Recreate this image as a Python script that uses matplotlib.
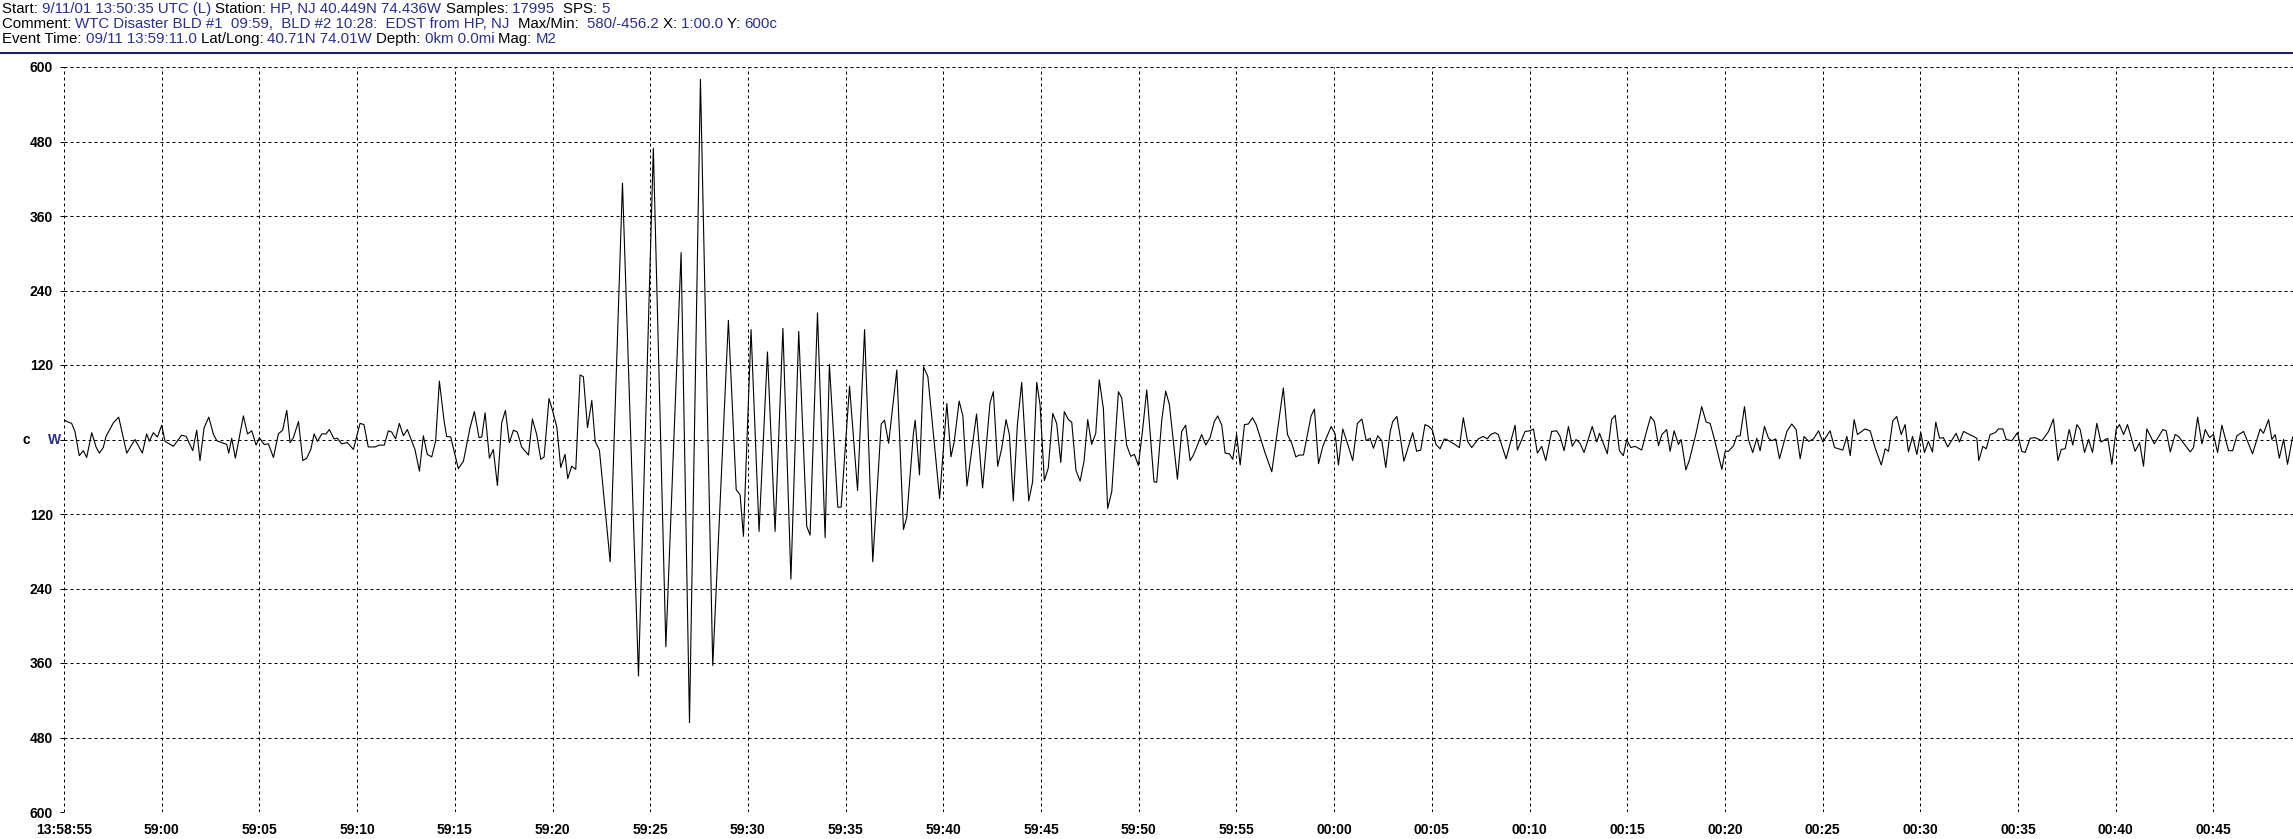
import numpy as np
import matplotlib.pyplot as plt
from matplotlib.lines import Line2D

# seismogram trace, (seconds after 13:58:55, counts) read at the turning points
quiet_before = [(0.0, 32), (0.14, 29), (0.39, 26), (0.56, 13), (0.78, -26), (0.99, -18), (1.16, -29),
                (1.42, 11), (1.64, -12), (1.81, -22), (2.01, -13), (2.15, 5), (2.53, 27), (2.80, 36),
                (3.21, -22), (3.63, 0), (4.01, -22), (4.23, 9), (4.37, -3), (4.57, 11), (4.78, 4),
                (5.00, 23), (5.17, -3), (5.60, -11), (6.02, 7), (6.25, 5), (6.59, -18), (6.79, 15),
                (6.96, -34), (7.17, 19), (7.41, 36), (7.65, 8), (7.82, -2), (8.33, -8), (8.43, -22),
                (8.58, 2), (8.77, -30), (9.18, 38), (9.39, 9), (9.61, 14), (9.83, -9), (10.00, 3),
                (10.24, -8), (10.46, -7), (10.72, -29), (10.97, 9), (11.19, 15), (11.40, 47),
                (11.57, -5), (11.74, 3), (12.00, 29), (12.22, -34), (12.42, -30), (12.63, -16),
                (12.80, 9), (12.97, -3), (13.19, 9), (13.41, 9), (13.58, 16), (13.82, 1), (13.99, 2),
                (14.21, -7), (14.50, -5), (14.81, -16), (15.15, 26), (15.35, 24), (15.57, -12),
                (15.92, -12), (16.14, -9), (16.39, -9), (16.60, 14), (16.77, 12), (16.97, 1),
                (17.16, 26), (17.37, 6), (17.57, 16), (17.96, -16), (18.19, -51), (18.39, 6),
                (18.59, -24), (18.82, -28), (19.02, -2), (19.21, 94), (19.45, 30), (19.58, 5),
                (19.79, 4), (20.18, -47), (20.44, -35), (20.78, 19), (21.00, 45), (21.24, 3),
                (21.38, 4), (21.55, 43), (21.77, -30), (21.97, -16), (22.18, -74), (22.40, 27),
                (22.59, 47), (22.79, -5), (23.00, 15), (23.20, 12), (23.42, -12), (23.77, -25),
                (23.97, 33), (24.19, 8), (24.40, -32), (24.57, -28), (24.82, 66), (24.99, 48),
                (25.22, 20), (25.42, -45), (25.64, -24), (25.78, -63), (25.98, -43), (26.19, -48)]

main_burst = [(26.41, 104), (26.58, 101), (26.79, 19), (27.01, 63), (27.18, -3), (27.40, -17),
              (27.95, -197), (28.58, 413), (29.40, -381), (30.16, 469), (30.80, -334), (31.58, 301),
              (32.01, -456), (32.57, 580), (33.20, -364), (34.00, 192), (34.40, -81), (34.60, -89),
              (34.77, -156), (35.16, 177), (35.57, -148), (36.00, 141), (36.39, -148), (36.79, 179),
              (37.20, -225), (37.60, 174), (38.01, -140), (38.18, -154), (38.56, 204), (38.95, -158),
              (39.17, 121), (39.60, -109), (39.77, -109), (40.20, 86), (40.61, -82), (40.97, 177),
              (41.39, -197), (41.82, 25), (41.99, 31), (42.20, -6), (42.62, 112), (42.96, -145),
              (43.13, -125), (43.47, 10), (43.56, 31), (43.78, -57), (43.99, 117), (44.21, 101),
              (44.81, -95), (45.18, 58), (45.39, -28), (45.56, -3), (45.81, 62), (46.00, 38),
              (46.21, -75), (46.70, 41)]

coda = [(47.01, -78), (47.39, 59), (47.56, 77), (47.78, -43), (47.99, -14), (48.21, 32), (48.38, 8),
        (48.58, -99), (48.79, 24), (49.01, 92), (49.37, -99), (49.57, -68), (49.78, 92), (49.95, 56),
        (50.17, -66), (50.37, -46), (50.60, 42), (50.80, 26), (51.01, -37), (51.19, 45), (51.40, 32),
        (51.57, 28), (51.79, -50), (52.00, -67), (52.20, -35), (52.39, 32), (52.59, -8), (52.80, 10),
        (52.98, 96), (53.19, 50), (53.41, -111), (53.62, -84), (53.96, 77), (54.13, 67), (54.38, -9),
        (54.59, -27), (54.78, -24), (54.98, -42), (55.19, 13), (55.41, 80), (55.78, -68),
        (55.92, -69), (56.18, 32), (56.38, 78), (56.57, 56), (56.98, -64), (57.20, 13), (57.40, 23),
        (57.63, -34), (57.80, -25), (58.22, 8), (58.43, -9), (58.65, 3), (58.87, 29), (59.04, 38),
        (59.25, 23), (59.42, -22), (59.64, -23), (59.81, -32), (60.01, 8), (60.19, -41), (60.41, 24),
        (60.61, 25), (60.82, 35), (61.01, 24), (61.47, -22), (61.81, -52), (62.40, 83), (62.61, 8),
        (62.83, -6), (63.04, -28), (63.22, -25), (63.43, -25), (63.82, 38), (63.99, 49),
        (64.20, -39), (64.42, -11), (64.85, 21), (65.05, 9), (65.22, -41), (65.44, 17), (65.68, -6),
        (65.95, -34), (66.19, 26), (66.42, 33), (66.64, -2), (66.84, 2), (67.01, -14), (67.23, 6),
        (67.44, -2), (67.64, -45), (67.87, 13), (68.00, 29), (68.21, 37), (68.38, 5)]

quiet_after = [(68.57, -35), (69.02, 11), (69.22, -19), (69.43, -17), (69.65, 24), (69.85, 21),
               (70.03, 15), (70.21, -8), (70.42, -15), (70.64, 1), (70.76, 0), (71.18, -8),
               (71.41, -13), (71.61, 35), (71.83, -3), (72.04, -13), (72.38, 1), (72.63, 5),
               (72.84, 1), (73.01, 8), (73.23, 11), (73.40, 8), (73.80, -31), (74.26, 23),
               (74.38, -17), (74.77, 13), (75.03, 14), (75.20, 17), (75.40, -22), (75.62, -11),
               (75.83, -34), (76.13, 13), (76.39, 14), (76.56, 5), (76.77, -18), (76.99, 21),
               (77.19, -11), (77.38, 0), (77.58, -6), (77.79, -21), (78.21, 21), (78.44, -4),
               (78.58, 10), (78.98, -23), (79.20, 32), (79.38, 39), (79.60, -18), (79.80, -26),
               (79.97, 0), (80.18, -13), (80.40, -11), (80.74, -17), (80.96, 10), (81.20, 37),
               (81.39, 29), (81.60, -10), (81.77, 8), (82.02, 16), (82.19, -19), (82.40, 14),
               (82.62, -8), (82.76, 0), (83.00, -49), (83.18, -33), (83.52, 10), (83.81, 53),
               (84.04, 28), (84.24, 26), (84.44, 3), (84.84, -48), (85.01, -19), (85.18, -19),
               (85.44, -10), (85.60, 5), (85.78, 6), (86.00, 53), (86.20, 0), (86.42, -21),
               (86.63, 2), (86.80, -18), (87.02, 21), (87.23, 2), (87.40, -2), (87.60, 1),
               (87.79, -31), (88.17, 13), (88.42, 25), (88.64, 16), (88.85, -31), (89.05, 5),
               (89.28, -3), (89.53, 1), (89.79, 14), (90.01, -4), (90.38, 14), (90.61, -13),
               (91.03, -17), (91.24, 5), (91.41, -26), (91.61, 32), (91.78, 8), (92.17, 17),
               (92.43, 14), (92.69, -14), (93.00, -41), (93.20, -15), (93.37, -19), (93.59, 30),
               (93.79, 37), (94.02, 8), (94.22, 24), (94.39, -20), (94.60, 5), (94.82, -24),
               (95.02, 12), (95.21, -21), (95.41, -3), (95.62, -20), (95.79, 28), (95.98, 2),
               (96.18, 3), (96.40, -12), (96.83, 10), (97.00, -4), (97.21, 13), (97.51, 8),
               (97.72, 5), (97.89, 2), (97.99, -34), (98.20, -11), (98.37, -15), (98.57, 8),
               (98.83, 11), (99.00, 17), (99.22, 17), (99.39, 0), (99.68, -2), (99.97, 11),
               (100.19, -19), (100.36, -21), (100.62, 2), (100.87, 3), (101.22, -2), (101.56, 13),
               (101.81, 33), (102.04, -34), (102.21, -16), (102.41, -15), (102.62, 16), (102.80, -9),
               (103.01, 24), (103.18, 16), (103.40, -21), (103.61, 0), (103.81, -21), (104.03, 26),
               (104.24, -4), (104.59, 2), (104.80, -40), (105.02, 16), (105.19, 24), (105.40, 8),
               (105.60, 24), (105.99, -19), (106.22, -5), (106.42, -43), (106.59, 17), (106.97, -7),
               (107.41, 16), (107.58, 14), (107.79, -20), (108.04, 8), (108.21, 5), (108.81, -20),
               (108.98, -13), (109.19, 36), (109.41, -7), (109.58, 16), (109.80, 3), (110.00, 8),
               (110.21, -21), (110.43, 23), (110.77, -18), (110.98, -18), (111.20, 6), (111.54, 13),
               (112.00, -23), (112.39, 17), (112.56, 10), (112.82, 32), (112.99, 0), (113.16, 8),
               (113.37, -30), (113.59, 0), (113.79, -40), (114.05, 4)]

x_ticks = list(range(0, 111, 5))
x_labels = ["13:58:55", "59:00", "59:05", "59:10", "59:15", "59:20", "59:25", "59:30", "59:35",
            "59:40", "59:45", "59:50", "59:55", "00:00", "00:05", "00:10", "00:15", "00:20",
            "00:25", "00:30", "00:35", "00:40", "00:45"]
y_ticks = list(range(-600, 601, 120))
y_labels = ["600", "480", "360", "240", "120", "", "120", "240", "360", "480", "600"]

BLUE = "#2d2f8f"
header = [
    [("Start: ", "k"), ("9/11/01 13:50:35 UTC (L) ", BLUE), ("Station: ", "k"),
     ("HP, NJ 40.449N 74.436W ", BLUE), ("Samples: ", "k"), ("17995  ", BLUE), ("SPS: ", "k"), ("5", BLUE)],
    [("Comment: ", "k"), ("WTC Disaster BLD #1  09:59,  BLD #2 10:28:  EDST from HP, NJ  ", BLUE),
     ("Max/Min:  ", "k"), ("580/-456.2 ", BLUE), ("X: ", "k"), ("1:00.0 ", BLUE), ("Y: ", "k"), ("600c", BLUE)],
    [("Event Time: ", "k"), ("09/11 13:59:11.0 ", BLUE), ("Lat/Long: ", "k"), ("40.71N 74.01W ", BLUE),
     ("Depth: ", "k"), ("0km 0.0mi ", BLUE), ("Mag: ", "k"), ("M2", BLUE)],
]

trace = np.array(quiet_before + main_burst + coda + quiet_after, dtype=float)

W, H = 2293, 839
fig = plt.figure(figsize=(W / 100, H / 100), dpi=100)
ax = fig.add_axes([64 / W, 1 - 812 / H, 1 - 64 / W, (812 - 67) / H])

ax.plot(trace[:, 0], trace[:, 1], color="black", lw=0.8)
ax.set_xlim(0, 114.07)
ax.set_ylim(-600, 600)

ax.set_xticks(x_ticks)
ax.set_xticklabels(x_labels)
ax.set_yticks(y_ticks)
ax.set_yticklabels(y_labels)
ax.grid(True, color="black", linestyle=(0, (3, 3)), linewidth=0.72)
for s in ax.spines.values():
    s.set_visible(False)

tick_font = dict(family="Liberation Sans", weight="bold", size=10)
for lab in ax.get_xticklabels() + ax.get_yticklabels():
    lab.set_fontproperties(tick_font)
ax.tick_params(axis="x", length=0, pad=8)
ax.tick_params(axis="y", length=3, width=0.72, pad=5)

ax.annotate("c", xy=(0, 0), xycoords=("axes fraction", "data"), xytext=(-38, 0),
            textcoords="offset pixels", ha="center", va="center", **tick_font)
ax.annotate("W", xy=(0, 0), xycoords=("axes fraction", "data"), xytext=(-9, 0),
            textcoords="offset pixels", ha="center", va="center", color=BLUE, **tick_font)

# header lines with mixed colours
renderer = fig.canvas.get_renderer()
head_font = dict(family="Liberation Sans", size=10)


def width_px(s, fs):
    t = fig.text(0, 0, s, fontsize=fs, family="Liberation Sans")
    w = t.get_window_extent(renderer).width
    t.remove()
    return w


full1 = "".join(p[0] for p in header[0])
fs = 10 * 605 / width_px(full1, 10)
for row, y in zip(header, [13, 28, 43]):
    prefix = ""
    for s, c in row:
        x = 2 if not prefix else 2 + width_px(prefix + "I", fs) - width_px("I", fs)
        fig.text(x / W, 1 - y / H, s, color=c, fontsize=fs, family="Liberation Sans", va="baseline")
        prefix += s

fig.add_artist(Line2D([0, 1], [1 - 53 / H] * 2, color="#1e1e78", lw=1.5))

fig.savefig("out.png", dpi=100)
